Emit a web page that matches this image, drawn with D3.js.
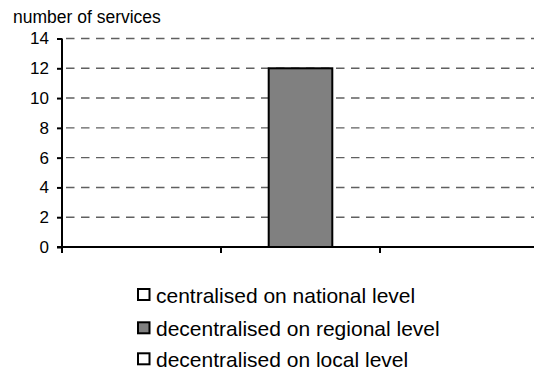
<!DOCTYPE html>
<html>
<head>
<meta charset="utf-8">
<script src="https://cdn.jsdelivr.net/npm/d3@7"></script>
<style>
  html, body { margin: 0; padding: 0; background: #fff; }
  svg { display: block; font-family: "Liberation Sans", Arial, sans-serif; }
</style>
</head>
<body>
<svg id="chart" width="534" height="374"></svg>
<script>
// Organisation level of services
const categories = [
  "centralised on national level",
  "decentralised on regional level",
  "decentralised on local level"
];
const values = [0, 12, 0];
const fills = ["#ffffff", "#808080", "#ffffff"];
const yTicks = [0, 2, 4, 6, 8, 10, 12, 14];
const yTitle = "number of services";

const svg = d3.select("#chart");
const plot = { left: 62, right: 539, top: 38.5, bottom: 247 };

const x = d3.scaleBand()
  .domain(categories)
  .range([plot.left, plot.right])
  .paddingInner(0.6)
  .paddingOuter(0.3);

const y = d3.scaleLinear()
  .domain([0, 14])
  .range([plot.bottom, plot.top]);

// dashed horizontal gridlines
svg.append("g")
  .selectAll("line")
  .data(yTicks.filter(d => d > 0))
  .join("line")
  .attr("x1", plot.left + 4)
  .attr("x2", plot.right)
  .attr("y1", d => y(d))
  .attr("y2", d => y(d))
  .attr("stroke", "#606060")
  .attr("stroke-width", 1.4)
  .attr("stroke-dasharray", "8.5,6.5");

// bars
svg.append("g")
  .selectAll("rect")
  .data(categories.map((c, i) => ({ c, v: values[i], f: fills[i] })).filter(d => d.v > 0))
  .join("rect")
  .attr("x", d => x(d.c))
  .attr("width", x.bandwidth())
  .attr("y", d => y(d.v))
  .attr("height", d => y(0) - y(d.v))
  .attr("fill", d => d.f)
  .attr("stroke", "#000")
  .attr("stroke-width", 2);

// y axis
const yAxis = d3.axisLeft(y)
  .tickValues(yTicks)
  .tickSize(5)
  .tickPadding(8);
const gy = svg.append("g")
  .attr("transform", `translate(${plot.left},0)`)
  .call(yAxis);
gy.select(".domain").attr("stroke-width", 2).attr("d", `M0,${plot.top}V${plot.bottom}`);
gy.selectAll(".tick line").attr("stroke-width", 2);
gy.selectAll(".tick text")
  .attr("font-size", 17)
  .attr("font-family", "Liberation Sans, Arial, sans-serif")
  .attr("fill", "#000");

// x axis with ticks on category boundaries
const boundaries = d3.range(categories.length + 1).map(i => plot.left + i * x.step());
const gx = svg.append("g");
gx.append("line")
  .attr("x1", plot.left - 5)
  .attr("x2", plot.right)
  .attr("y1", y(0))
  .attr("y2", y(0))
  .attr("stroke", "#000")
  .attr("stroke-width", 2);
gx.selectAll("line.tick")
  .data(boundaries)
  .join("line")
  .attr("class", "tick")
  .attr("x1", d => d)
  .attr("x2", d => d)
  .attr("y1", y(0))
  .attr("y2", y(0) + 6)
  .attr("stroke", "#000")
  .attr("stroke-width", 2);

// axis title
svg.append("text")
  .attr("x", 13)
  .attr("y", 23)
  .attr("font-size", 17.5)
  .attr("fill", "#000")
  .text(yTitle);

// legend
const legend = svg.append("g").attr("transform", "translate(137,0)");
const rowY = [294.5, 327.8, 358.8];
const rows = legend.selectAll("g")
  .data(categories.map((c, i) => ({ c, f: fills[i], cy: rowY[i] })))
  .join("g")
  .attr("transform", d => `translate(0,${d.cy})`);
rows.append("rect")
  .attr("x", 1)
  .attr("y", -5.5)
  .attr("width", 11.5)
  .attr("height", 11)
  .attr("fill", d => d.f)
  .attr("stroke", "#000")
  .attr("stroke-width", 2);
rows.append("text")
  .attr("x", 19)
  .attr("y", 8)
  .attr("font-size", 21)
  .attr("fill", "#000")
  .text(d => d.c);
</script>
</body>
</html>
